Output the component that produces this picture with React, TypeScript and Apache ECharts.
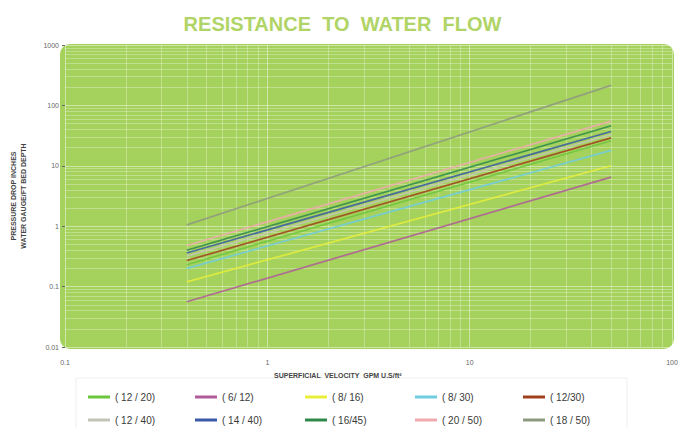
import React, { useEffect, useRef } from "react";
import * as echarts from "echarts";

const seriesNames = ["( 12 / 20)", "( 6/ 12)", "( 8/ 16)", "( 8/ 30)", "( 12/30)", "( 12 / 40)", "( 14 / 40)", "( 16/45)", "( 20 / 50)", "( 18 / 50)"];
const seriesColors = ["#6cc63e", "#b05a9a", "#e8ee3a", "#70cce0", "#a0401c", "#c4c4b8", "#3a5aa8", "#2f8a4a", "#f0aab0", "#8e9a80"];
const velocities = [0.4, 50];
const dropAtStart = [0.23, 0.056, 0.12, 0.2, 0.27, 0.32, 0.36, 0.4, 0.48, 1.05];
const dropAtEnd = [26, 6.5, 10, 18, 29, 33, 37, 46, 55, 215];
const xDecades = [0.1, 1, 10];
const yDecades = [0.01, 0.1, 1, 10, 100];
const minorMultipliers = [2, 3, 4, 5, 6, 7, 8, 9];

export default function App() {
  const ref = useRef<HTMLDivElement>(null);
  useEffect(() => {
    if (!ref.current) return;
    const chart = echarts.init(ref.current, null, { renderer: "svg" });
    const font = "Liberation Sans";
    const lineSeries = seriesNames.map((name, i) => ({
      name,
      type: "line",
      showSymbol: false,
      symbol: "none",
      color: seriesColors[i],
      lineStyle: { width: 1.7, color: seriesColors[i], opacity: 0.85 },
      data: [
        [velocities[0], dropAtStart[i]],
        [velocities[1], dropAtEnd[i]],
      ],
      z: 5,
    }));
    const minorX = xDecades.flatMap((d) => minorMultipliers.map((m) => ({ xAxis: +(d * m).toPrecision(3) })));
    const minorY = yDecades.flatMap((d) => minorMultipliers.map((m) => ({ yAxis: +(d * m).toPrecision(3) })));
    const helper = {
      name: "grid-helper",
      type: "line",
      data: [],
      silent: true,
      z: 1,
      markLine: {
        silent: true,
        symbol: ["none", "none"],
        label: { show: false },
        lineStyle: { color: "rgba(255,255,255,0.3)", width: 1, type: "solid" },
        data: [...minorX, ...minorY],
        animation: false,
      },
    };
    const colX = [83, 190, 300, 410, 518];
    const rowY = [387, 410];
    const legends = seriesNames.map((name, i) => ({
      data: [name],
      left: colX[i % 5],
      top: rowY[Math.floor(i / 5)],
      icon: "rect",
      itemWidth: 22,
      itemHeight: 3,
      itemGap: 3,
      textStyle: { fontFamily: font, fontSize: 10, color: "#3a3a3a" },
    }));
    chart.setOption({
      animation: false,
      title: {
        text: "RESISTANCE  TO  WATER  FLOW",
        left: "center",
        top: 9,
        textStyle: { fontFamily: font, fontSize: 20, fontWeight: "bold", color: "#b0d466" },
      },
      legend: legends,
      grid: { left: 60, right: 13, top: 45, bottom: 81 },
      graphic: [
        {
          type: "rect",
          z: -10,
          silent: true,
          shape: { x: 60, y: 44, width: 614, height: 305, r: 10 },
          style: { fill: "#a4d25c" },
        },
        {
          type: "rect",
          z: -10,
          silent: true,
          shape: { x: 76, y: 378, width: 551, height: 52 },
          style: { fill: "none", stroke: "#efefef", lineWidth: 1 },
        },
        {
          type: "text",
          x: 274,
          y: 372,
          style: {
            text: "SUPERFICIAL  VELOCITY  GPM U.S/ft²",
            fontFamily: font,
            fontSize: 7,
            fontWeight: "bold",
            fill: "#444",
          },
        },
      ],
      xAxis: {
        type: "log",
        logBase: 10,
        min: 0.1,
        max: 100,
        axisLine: { show: false },
        axisTick: { show: false },
        axisLabel: { fontFamily: font, fontSize: 7, color: "#666", margin: 12, formatter: (v: number) => String(v) },
        splitLine: { show: true, lineStyle: { color: "rgba(255,255,255,0.45)", width: 1 } },
      },
      yAxis: {
        type: "log",
        logBase: 10,
        min: 0.01,
        max: 1000,
        name: "PRESSURE DROP INCHES\nWATER GAUGE/FT BED DEPTH",
        nameLocation: "middle",
        nameRotate: 90,
        nameGap: 37,
        nameTextStyle: { fontFamily: font, fontSize: 7, fontWeight: "bold", color: "#444", lineHeight: 10 },
        axisLine: { show: false },
        axisTick: { show: true, length: 3, lineStyle: { color: "#666" } },
        axisLabel: { fontFamily: font, fontSize: 7, color: "#666", margin: 6, formatter: (v: number) => String(v) },
        splitLine: { show: true, lineStyle: { color: "rgba(255,255,255,0.45)", width: 1 } },
      },
      series: [helper, ...lineSeries],
    });
    return () => chart.dispose();
  }, []);
  return <div ref={ref} style={{ width: 685, height: 428, position: "absolute", left: 0, top: 0 }} />;
}
